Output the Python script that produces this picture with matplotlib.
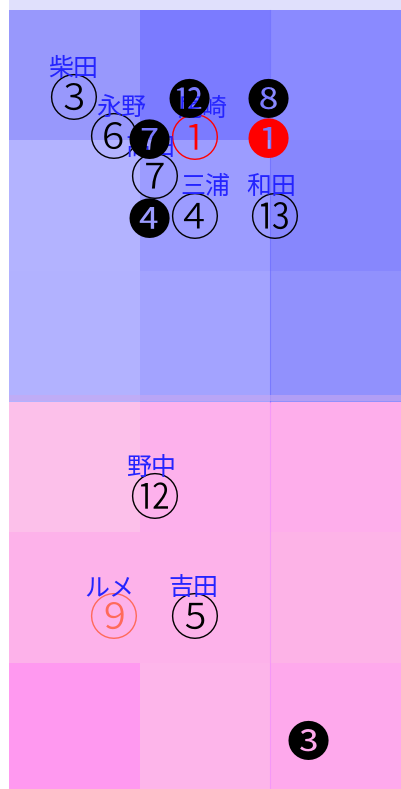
import matplotlib
matplotlib.use("Agg")
import matplotlib.pyplot as plt
from matplotlib.patches import Rectangle

# cell colours, rows from top to bottom, 3 columns
cell_colors = [
    ["#9898fc", "#7b7bff", "#8a8aff"],
    ["#b3b3ff", "#9c9cff", "#8787fd"],
    ["#b2b2ff", "#a3a3ff", "#9191fd"],
    ["#fcc0ea", "#fdb1ec", "#feaeeb"],
    ["#fdb2ea", "#fdb2ea", "#fdb3e7"],
    ["#ff99f0", "#fdb5ea", "#fea9ec"],
]

# players: name, mark, x, y, colour
names = ["柴田", "永野", "尾崎", "高田", "三浦", "和田", "野中", "ルメ", "吉田"]
marks = ["③", "⑥", "①", "⑦", "④", "⑬", "⑫", "⑨", "⑤"]
px = [0.49, 0.80, 1.42, 1.11, 1.42, 2.03, 1.11, 0.80, 1.42]
py = [0.67, 0.97, 0.98, 1.28, 1.58, 1.58, 3.73, 4.65, 4.65]
lx = [0.49, 0.86, 1.48, 1.08, 1.50, 2.01, 1.09, 0.77, 1.41]  # name label x
pcol = ["black", "black", "red", "black", "black", "black", "black", "#ff6a5a", "black"]

# filled marks
fmarks = ["⓬", "❽", "❼", "❶", "❹", "❸"]
fx = [1.38, 1.98, 1.07, 1.98, 1.07, 2.29]
fy = [0.68, 0.68, 1.00, 0.99, 1.60, 5.60]
fcol = ["black", "black", "black", "red", "black", "black"]

U = 130.5  # pixels per cell
fig = plt.figure(figsize=(4.01, 7.89), dpi=100)
ax = fig.add_axes([9 / 401, 0, 392 / 401, 1])
ax.set_facecolor("#e0e0fc")
ax.set_xlim(0, 3)
ax.set_ylim(779 / U, -10 / U)
ax.axis("off")
ax.add_patch(Rectangle((0, -1), 3, 8, color="#e0e0fc", zorder=0))

for r, row in enumerate(cell_colors):
    for c, col in enumerate(row):
        ax.add_patch(Rectangle((c, r), 1, 1, facecolor=col, edgecolor="none", zorder=1))

ax.plot([2, 2], [0, 3], color="#6a6aff", lw=0.8, alpha=0.6, zorder=2)
ax.plot([2, 2], [3, 6], color="#f08cff", lw=0.8, alpha=0.6, zorder=2)
ax.add_patch(Rectangle((0, 2.95), 3, 0.05, facecolor="#c8a8f0", edgecolor="none", alpha=0.6, zorder=2))

numfont = ["Noto Sans CJK JP", "DejaVu Sans"]
for n, m, x, y, x2, c in zip(names, marks, px, py, lx, pcol):
    ax.text(x, y + 0.035, m, fontsize=36, color=c, ha="center", va="center", family=numfont,
            fontweight="light", zorder=3)
    ax.text(x2, y - 0.22, n, fontsize=18, color="#2424ff", ha="center", va="center",
            family=["Noto Sans CJK JP"], zorder=4)

for m, x, y, c in zip(fmarks, fx, fy, fcol):
    ax.text(x, y + 0.03, m, fontsize=31, color=c, ha="center", va="center", family=numfont,
            zorder=5)

fig.savefig("out.png", dpi=100)
